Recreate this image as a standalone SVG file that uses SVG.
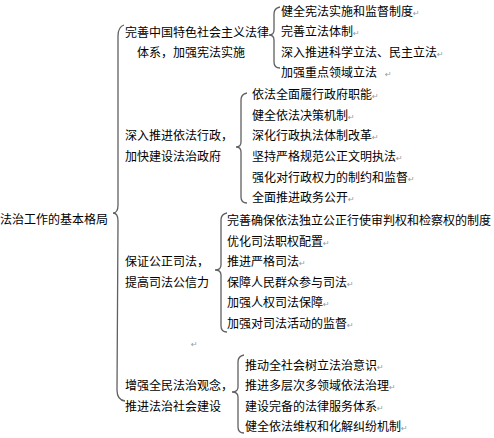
<svg xmlns="http://www.w3.org/2000/svg" width="494" height="438" viewBox="0 0 494 438">
<style>
  text { font-family: "Noto Sans CJK SC", "Liberation Sans", sans-serif; font-size: 12px; fill: #000; }
  .pm { font-family: "DejaVu Sans", sans-serif; font-size: 8px; fill: #999; }
  .brace { fill: none; stroke: #606060; stroke-width: 1.3; }
</style>
<rect width="494" height="438" fill="#fff"/>
<g id="connectors">
  <path class="brace" d="M124,25 Q118,27 118,36 L118,205 Q118,213 113,213 Q118,213 118,221 L117,390 Q117,400 125,401"/>
  <path class="brace" d="M280,7 Q274,8 274,14 L274,30 Q274,35 269,35 Q274,35 274,40 L274,62 Q274,68 280,68"/>
  <path class="brace" d="M247,93 Q241,94 241,100 L241,142 Q241,147 236,147 Q241,147 241,152 L241,197 Q241,203 247,203"/>
  <path class="brace" d="M227,213 Q221,214 221,220 L221,265 Q221,270 215,270 Q221,270 221,275 L221,326 Q221,332 227,332"/>
  <path class="brace" d="M244,355 Q238,356 238,362 L238,387 Q238,392 232,392 Q238,392 238,397 L238,427 Q238,433 244,433"/>
</g>
<g id="root"><text x="0" y="224">法治工作的基本格局</text></g>
<g id="n1"><text x="125" y="37">完善中国特色社会主义法律</text><text x="137" y="57">体系，加强宪法实施</text></g>
<g id="n1a"><text x="281" y="16">健全宪法实施和监督制度<tspan class="pm">↵</tspan></text></g>
<g id="n1b"><text x="281" y="36">完善立法体制<tspan class="pm">↵</tspan></text></g>
<g id="n1c"><text x="281" y="57">深入推进科学立法、民主立法<tspan class="pm">↵</tspan></text></g>
<g id="n1d"><text x="281" y="77">加强重点领域立法<tspan class="pm" dx="8">↵</tspan></text></g>
<g id="n2"><text x="125" y="140">深入推进依法行政，</text><text x="125" y="161">加快建设法治政府</text></g>
<g id="n2a"><text x="252" y="99">依法全面履行政府职能<tspan class="pm">↵</tspan></text></g>
<g id="n2b"><text x="252" y="119.5">健全依法决策机制<tspan class="pm">↵</tspan></text></g>
<g id="n2c"><text x="252" y="140">深化行政执法体制改革<tspan class="pm">↵</tspan></text></g>
<g id="n2d"><text x="252" y="161">坚持严格规范公正文明执法<tspan class="pm">↵</tspan></text></g>
<g id="n2e"><text x="252" y="181.5">强化对行政权力的制约和监督<tspan class="pm">↵</tspan></text></g>
<g id="n2f"><text x="252" y="202">全面推进政务公开<tspan class="pm">↵</tspan></text></g>
<g id="n3"><text x="125" y="266">保证公正司法，</text><text x="125" y="286.5">提高司法公信力</text></g>
<g id="n3a"><text x="227" y="225">完善确保依法独立公正行使审判权和检察权的制度</text></g>
<g id="n3b"><text x="227" y="245.5">优化司法职权配置<tspan class="pm">↵</tspan></text></g>
<g id="n3c"><text x="227" y="266">推进严格司法<tspan class="pm">↵</tspan></text></g>
<g id="n3d"><text x="227" y="286.5">保障人民群众参与司法<tspan class="pm">↵</tspan></text></g>
<g id="n3e"><text x="227" y="307">加强人权司法保障<tspan class="pm">↵</tspan></text></g>
<g id="n3f"><text x="227" y="327.5">加强对司法活动的监督<tspan class="pm">↵</tspan></text></g>
<g id="mark"><text class="pm" x="191" y="347">↵</text></g>
<g id="n4"><text x="125" y="390">增强全民法治观念，</text><text x="125" y="410.5">推进法治社会建设</text></g>
<g id="n4a"><text x="245" y="369.5">推动全社会树立法治意识<tspan class="pm">↵</tspan></text></g>
<g id="n4b"><text x="245" y="390">推进多层次多领域依法治理<tspan class="pm">↵</tspan></text></g>
<g id="n4c"><text x="245" y="410.5">建设完备的法律服务体系<tspan class="pm">↵</tspan></text></g>
<g id="n4d"><text x="245" y="431">健全依法维权和化解纠纷机制<tspan class="pm">↵</tspan></text></g>
</svg>
